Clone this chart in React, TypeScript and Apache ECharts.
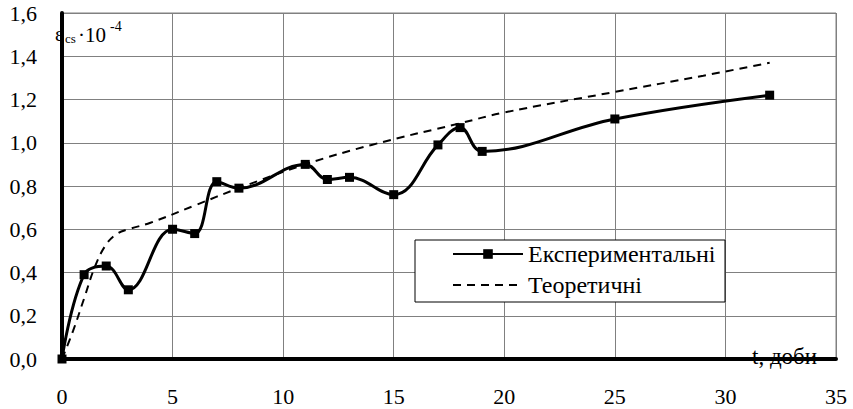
import React, { useEffect, useRef } from "react";
import * as echarts from "echarts";

const expX = [0, 1, 2, 3, 5, 6, 7, 8, 11, 12, 13, 15, 17, 18, 19, 25, 32];
const expY = [0, 0.39, 0.43, 0.32, 0.6, 0.58, 0.82, 0.79, 0.9, 0.83, 0.84, 0.76, 0.99, 1.07, 0.96, 1.11, 1.22];

const theoX = [0, 0.5, 1, 1.5, 2, 2.5, 3, 4, 6, 8, 11, 14, 18, 20, 25, 29, 32];
const theoY = [0, 0.13, 0.28, 0.43, 0.53, 0.58, 0.6, 0.63, 0.71, 0.79, 0.9, 0.99, 1.09, 1.14, 1.235, 1.31, 1.37];

const seriesNames = ["Експериментальні", "Теоретичні"];
const xAxisTitle = "t, доби";

const FONT = "Liberation Serif";

export default function App() {
  const ref = useRef<HTMLDivElement>(null);
  useEffect(() => {
    if (!ref.current) return;
    const chart = echarts.init(ref.current, undefined, { renderer: "svg" });
    chart.setOption({
      animation: false,
      backgroundColor: "#ffffff",
      grid: {
        left: 62,
        right: 17,
        top: 13,
        bottom: 50,
        show: true,
        borderColor: "#808080",
        borderWidth: 1,
      },
      xAxis: {
        type: "value",
        min: 0,
        max: 35,
        interval: 5,
        axisLine: { show: true, onZero: false, lineStyle: { color: "#000", width: 4 } },
        axisTick: { show: false },
        splitLine: { show: true, lineStyle: { color: "#808080", width: 1 } },
        axisLabel: { color: "#000", fontFamily: FONT, fontSize: 22, margin: 26 },
      },
      yAxis: {
        type: "value",
        min: 0,
        max: 1.6,
        interval: 0.2,
        axisLine: { show: true, lineStyle: { color: "#000", width: 4 } },
        axisTick: { show: false },
        splitLine: { show: true, lineStyle: { color: "#808080", width: 1 } },
        axisLabel: {
          color: "#000",
          margin: 25,
          fontFamily: FONT,
          fontSize: 22,
          padding: [6, 0, 0, 0],
          formatter: (v: number) => v.toFixed(1).replace(".", ","),
        },
      },
      legend: {
        show: true,
        orient: "vertical",
        left: 452,
        top: 242,
        padding: 0,
        itemWidth: 70,
        itemHeight: 12,
        itemGap: 7,
        textStyle: { color: "#000", fontFamily: FONT, fontSize: 24, lineHeight: 24 },
        z: 10,
        data: seriesNames,
      },
      graphic: [
        {
          type: "rect",
          z: 5,
          shape: { x: 415, y: 240, width: 310, height: 62 },
          style: { fill: "#fff", stroke: "#000", lineWidth: 1 },
        },
        {
          type: "text",
          z: 6,
          style: { text: "ε", x: 55, y: 24, fontSize: 20, fontFamily: FONT, fill: "#000" },
        },
        {
          type: "text",
          z: 6,
          style: { text: "cs", x: 65, y: 32, fontSize: 13, fontFamily: FONT, fill: "#000" },
        },
        {
          type: "text",
          z: 6,
          style: { text: "·10", x: 78, y: 24, fontSize: 21, fontFamily: FONT, fill: "#000" },
        },
        {
          type: "text",
          z: 6,
          style: { text: "-4", x: 110, y: 19, fontSize: 14, fontFamily: FONT, fill: "#000" },
        },
        {
          type: "text",
          z: 1,
          style: { text: xAxisTitle, x: 752, y: 345, fontSize: 23, fontFamily: FONT, fill: "#000" },
        },
      ],
      series: [
        {
          name: seriesNames[0],
          type: "line",
          data: expX.map((x, i) => [x, expY[i]]),
          smooth: 0.4,
          symbol: "rect",
          symbolSize: 9,
          itemStyle: { color: "#000" },
          lineStyle: { color: "#000", width: 3 },
          z: 3,
        },
        {
          name: seriesNames[1],
          type: "line",
          data: theoX.map((x, i) => [x, theoY[i]]),
          smooth: 0.4,
          symbol: "none",
          itemStyle: { color: "#000", opacity: 0 },
          lineStyle: { color: "#000", width: 2, type: [8, 6] },
          z: 2,
        },
      ],
    });
    return () => chart.dispose();
  }, []);
  return (
    <div
      ref={ref}
      style={{ position: "fixed", left: 0, top: 0, width: 853, height: 409 }}
    />
  );
}
